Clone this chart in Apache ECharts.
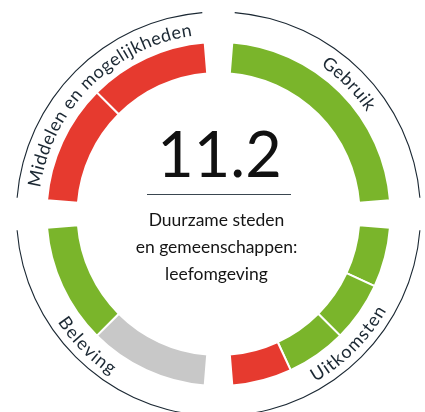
<!DOCTYPE html>
<html>
<head>
<meta charset="utf-8">
<script src="https://cdn.jsdelivr.net/npm/echarts@6/dist/echarts.min.js"></script>
<style>
  html, body { margin: 0; padding: 0; background: #ffffff; }
  #chart { width: 425px; height: 412px; }
</style>
</head>
<body>
<div id="chart"></div>
<script>
// Quadrants, clockwise from the top right
const quadrantNames = ['Gebruik', 'Uitkomsten', 'Beleving', 'Middelen en mogelijkheden'];
// Status of each indicator segment, listed clockwise inside its quadrant
const gebruikSegments = ['groen'];
const uitkomstenSegments = ['groen', 'groen', 'groen', 'rood'];
const belevingSegments = ['grijs', 'groen'];
const middelenSegments = ['rood', 'rood'];
// Centre caption
const goalNumber = '11.2';
const goalLines = ['Duurzame steden', 'en gemeenschappen:', 'leefomgeving'];

const quadrantSegments = [gebruikSegments, uitkomstenSegments, belevingSegments, middelenSegments];
const statusColors = { groen: '#7ab52b', rood: '#e63a2f', grijs: '#c8c8c8' };
const inkColor = '#1b2833';

const CX = 218.5, CY = 214;
const GAP = 4.6;            // degrees kept open either side of each axis
const RING = [141, 172];    // status ring (white border eats ~1px each side)
const OUTLINE = [201.5, 202.6];
const LABEL_R = 187;
const LABEL_FONT = '18px Lato, "Noto Sans", sans-serif';
const LABEL_SPACING = 0.8;

const series = [];
quadrantSegments.forEach((segs, i) => {
  const start = 90 - 90 * i - GAP;
  const end = 90 - 90 * (i + 1) + GAP;
  series.push({
    type: 'pie',
    name: quadrantNames[i],
    center: [CX, CY],
    radius: RING,
    startAngle: start,
    endAngle: end,
    clockwise: true,
    silent: true,
    animation: false,
    label: { show: false },
    labelLine: { show: false },
    itemStyle: { borderColor: '#ffffff', borderWidth: 2 },
    data: segs.map((s, k) => ({ name: quadrantNames[i] + ' ' + (k + 1), value: 1, itemStyle: { color: statusColors[s] } }))
  });
  series.push({
    type: 'pie',
    name: quadrantNames[i] + ' rand',
    center: [CX, CY],
    radius: OUTLINE,
    startAngle: start,
    endAngle: end,
    clockwise: true,
    silent: true,
    animation: false,
    label: { show: false },
    labelLine: { show: false },
    data: [{ value: 1, itemStyle: { color: inkColor } }]
  });
});

// Text set along an arc, one glyph at a time
const measureCtx = document.createElement('canvas').getContext('2d');
function arcText(text, midDeg, radius, upper) {
  measureCtx.font = LABEL_FONT;
  const chars = Array.from(text);
  const widths = chars.map(ch => measureCtx.measureText(ch).width);
  const total = widths.reduce((a, b) => a + b, 0) + LABEL_SPACING * (chars.length - 1);
  const span = total / radius;
  const mid = midDeg * Math.PI / 180;
  const out = [];
  let pos = 0;
  chars.forEach((ch, k) => {
    const c = pos + widths[k] / 2;
    pos += widths[k] + LABEL_SPACING;
    const a = upper ? mid + span / 2 - c / radius : mid - span / 2 + c / radius;
    out.push({
      type: 'text',
      x: CX + radius * Math.cos(a),
      y: CY - radius * Math.sin(a),
      rotation: upper ? a - Math.PI / 2 : a + Math.PI / 2,
      silent: true,
      style: {
        text: ch, font: LABEL_FONT, fill: inkColor,
        align: 'center', verticalAlign: 'middle',
        textAlign: 'center', textVerticalAlign: 'middle'
      }
    });
  });
  return out;
}

const graphics = [];
const labelMid = [45, -45, -135, 135];
quadrantNames.forEach((name, i) => {
  const upper = labelMid[i] > 0;
  graphics.push(...arcText(name, labelMid[i], upper ? LABEL_R - 1 : LABEL_R + 1, upper));
});

graphics.push({
  type: 'text', x: CX + 1, y: 157, silent: true,
  style: {
    text: goalNumber, font: '400 63px Lato, "Noto Sans", sans-serif', fill: '#111111',
    align: 'center', verticalAlign: 'middle', textAlign: 'center', textVerticalAlign: 'middle'
  }
});
graphics.push({
  type: 'line', silent: true,
  shape: { x1: CX - 71.5, y1: 194.5, x2: CX + 72.5, y2: 194.5 },
  style: { stroke: '#3a4650', lineWidth: 1 }
});
goalLines.forEach((line, k) => {
  graphics.push({
    type: 'text', x: CX - 2, y: 220 + 27 * k, silent: true,
    style: {
      text: line, font: '17.5px Lato, "Noto Sans", sans-serif', fill: '#151515',
      align: 'center', verticalAlign: 'middle', textAlign: 'center', textVerticalAlign: 'middle'
    }
  });
});

const chart = echarts.init(document.getElementById('chart'), null, { renderer: 'canvas' });
chart.setOption({
  backgroundColor: '#ffffff',
  animation: false,
  series: series,
  graphic: { elements: graphics }
});
</script>
</body>
</html>
